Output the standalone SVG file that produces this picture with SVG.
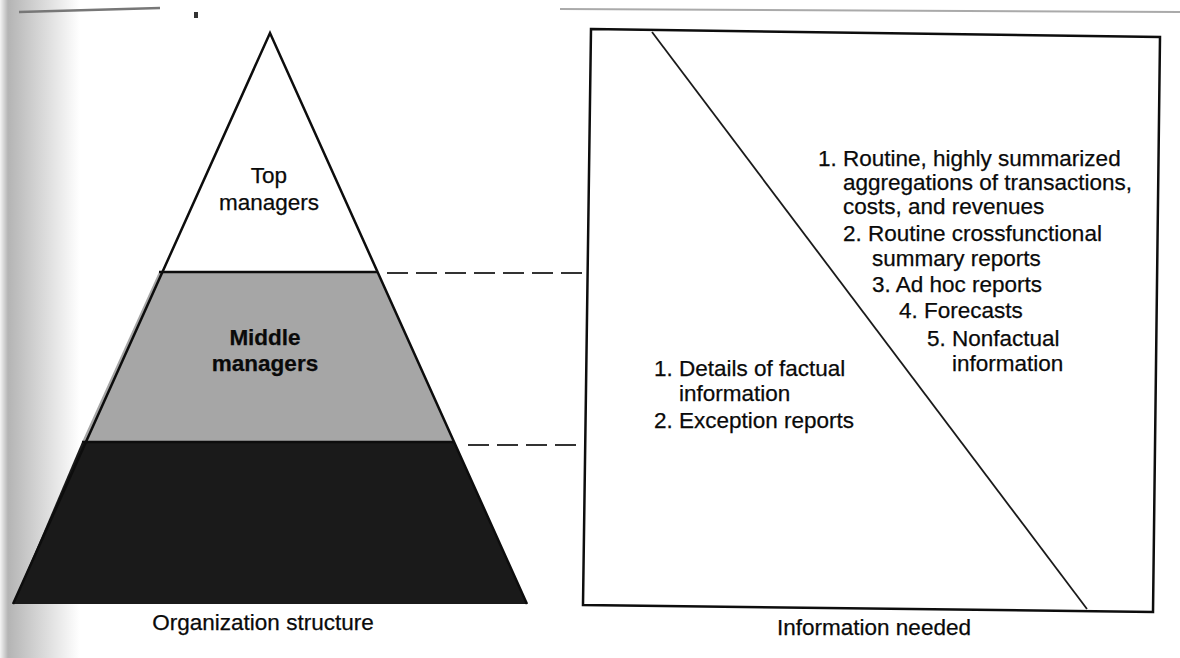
<svg xmlns="http://www.w3.org/2000/svg" width="1180" height="658" viewBox="0 0 1180 658">
<style>
.t{font-family:"Liberation Sans",Arial,sans-serif;font-size:22.5px;fill:#0a0a0a;stroke:#0a0a0a;stroke-width:0.25}
.c{text-anchor:middle}
.b{font-weight:bold}
.edge{fill:none;stroke:#0d0d0d;stroke-width:2.5;stroke-linejoin:miter}
.dash{fill:none;stroke:#333;stroke-width:2.2;stroke-dasharray:21 8}
</style>
<defs>
<linearGradient id="page" x1="0" y1="0" x2="1" y2="0">
<stop offset="0" stop-color="#f4f4f4"/>
<stop offset="0.1" stop-color="#b4b4b4"/>
<stop offset="0.45" stop-color="#d2d2d2"/>
<stop offset="1" stop-color="#ffffff"/>
</linearGradient>
</defs>
<rect width="1180" height="658" fill="#fff"/>
<rect x="0" y="0" width="80" height="658" fill="url(#page)"/>
<g id="scan-marks">
<line x1="19" y1="12" x2="160" y2="8" stroke="#777" stroke-width="2.5"/>
<line x1="560" y1="9" x2="1180" y2="12" stroke="#aaa" stroke-width="2"/>
<rect x="194" y="12" width="4" height="6" fill="#333"/>
</g>
<g id="top-managers">
<polygon points="270,33 159,272 377,272" fill="#fff"/>
<text class="t c" x="269" y="183">Top</text>
<text class="t c" x="269" y="210">managers</text>
</g>
<g id="middle-managers">
<polygon points="159,272 377,272 454,442 82,442" fill="#a6a6a6"/>
<text class="t c b" x="265" y="345">Middle</text>
<text class="t c b" x="265" y="371">managers</text>
</g>
<g id="operating-level">
<polygon points="82,442 454,442 527,604 13,604" fill="#1a1a1a"/>
</g>
<g id="pyramid-outline">
<polyline class="edge" points="13,604 270,33 527,604"/>
<line class="edge" x1="159" y1="272" x2="377" y2="272" stroke-width="2"/>
<line class="edge" x1="82" y1="442" x2="454" y2="442" stroke-width="2"/>
</g>
<g id="org-label">
<text class="t c" x="263" y="630">Organization structure</text>
</g>
<g id="connectors">
<line class="dash" x1="387" y1="273" x2="588" y2="273"/>
<line class="dash" x1="468" y1="445" x2="584" y2="445"/>
</g>
<g id="information-needed">
<polygon class="edge" points="591,29 1160,37 1153,612 583,605" fill="#fff"/>
<line x1="652" y1="32" x2="1087" y2="609" stroke="#1a1a1a" stroke-width="1.8"/>
<text class="t" x="818" y="166">1. Routine, highly summarized</text>
<text class="t" x="843" y="190">aggregations of transactions,</text>
<text class="t" x="843" y="214">costs, and revenues</text>
<text class="t" x="843" y="241">2. Routine crossfunctional</text>
<text class="t" x="872" y="266">summary reports</text>
<text class="t" x="872" y="292">3. Ad hoc reports</text>
<text class="t" x="899" y="318">4. Forecasts</text>
<text class="t" x="927" y="346">5. Nonfactual</text>
<text class="t" x="952" y="371">information</text>
<text class="t" x="654" y="376">1. Details of factual</text>
<text class="t" x="679" y="401">information</text>
<text class="t" x="654" y="428">2. Exception reports</text>
<text class="t c" x="874" y="635">Information needed</text>
</g>
</svg>
